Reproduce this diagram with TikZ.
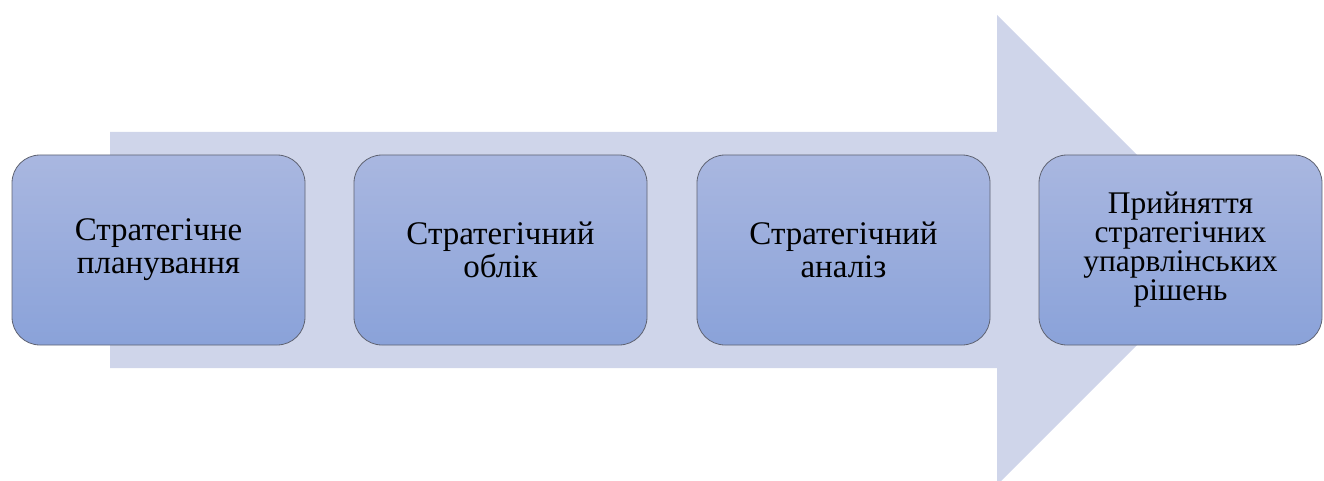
\documentclass[tikz,border=0pt]{standalone}
\usepackage{fontspec}
\setmainfont{Liberation Serif}
\definecolor{arrowfill}{HTML}{CFD5EA}
\definecolor{boxtop}{HTML}{A9B7E0}
\definecolor{boxbottom}{HTML}{8AA2D9}
\definecolor{boxline}{HTML}{5F6372}
\tikzset{
  stage/.style={draw=boxline, line width=0.8pt, rounded corners=28pt,
    top color=boxtop, bottom color=boxbottom,
    minimum width=293pt, minimum height=190pt, align=center,
    inner sep=4pt, text=black},
  bigtext/.style={font=\fontsize{33}{33}\selectfont},
  smalltext/.style={font=\fontsize{31.5}{29}\selectfont}
}
\begin{document}
\begin{tikzpicture}[x=1pt,y=-1pt]
\useasboundingbox (0,0) rectangle (1324,481);
\clip (0,0) rectangle (1324,481);
% wide background arrow
\fill[arrowfill] (110,132) -- (997,132) -- (997,15) -- (1232,250)
  -- (997,485) -- (997,368) -- (110,368) -- cycle;
% process stages
\node[stage, bigtext] (s1) at (158.5,250) {Стратегічне\\планування};
\node[stage, bigtext] (s2) at (500.5,250) {Стратегічний\\облік};
\node[stage, bigtext] (s3) at (843.5,250) {Стратегічний\\аналіз};
\node[stage, smalltext, minimum width=283pt] (s4) at (1180.5,250)
  {Прийняття\\стратегічних\\упарвлінських\\рішень};
\end{tikzpicture}
\end{document}
